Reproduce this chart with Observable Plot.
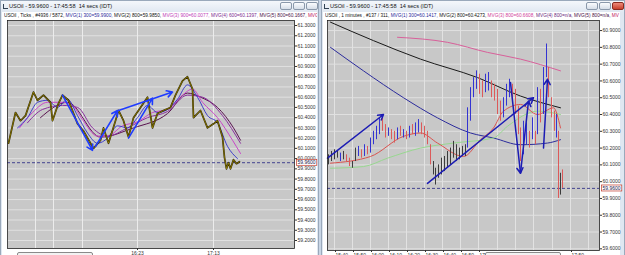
<!DOCTYPE html>
<html><head><meta charset="utf-8">
<script src="https://cdn.jsdelivr.net/npm/d3@7"></script>
<script src="https://cdn.jsdelivr.net/npm/@observablehq/plot@0.6"></script>
<style>
body{margin:0;width:625px;height:255px;overflow:hidden;background:#c9d6e6;font-family:"Liberation Sans",Arial,sans-serif;position:relative}
.win{position:absolute;top:0;height:256px;background:linear-gradient(#f4f7fb,#dfe7f1 12px,#dfe7f1);border:1px solid #9aa9bb;box-sizing:border-box}
.client{position:absolute;background:#fff}
.tbar{position:absolute;top:0;height:12px;font-size:5.6px;line-height:12px;color:#111;white-space:nowrap}
.ico{position:absolute;top:4px;width:5px;height:5px;border-left:1px solid #345;border-bottom:1px solid #345;box-sizing:border-box}
.sub{position:absolute;top:12px;height:8px;font-size:4.75px;line-height:8px;white-space:nowrap;overflow:hidden;color:#111}
.chart{position:absolute;top:19px}
.btns{position:absolute;top:2px;display:flex;gap:1px}
.btn{width:12px;height:8px;border:1px solid #8a98aa;background:linear-gradient(#fbfcfe,#d6dee8);border-radius:2px;box-sizing:border-box}
.btn.close{background:linear-gradient(#ee8a7a,#c8402c);border-color:#8a2a20}
.scroll{position:absolute;top:252px;height:6px;border:1px solid #8a8a8a;background:#f2f2f2;border-radius:2px;box-sizing:border-box}
</style></head><body>
<div class="win" style="left:0;width:319px"></div>
<div class="win" style="left:321px;width:304px"></div>
<div class="client" style="left:2px;top:12px;width:315px;height:243px"></div>
<div class="client" style="left:323px;top:12px;width:297px;height:243px"></div>
<div class="ico" style="left:3px"></div>
<div class="ico" style="left:324px"></div>
<div class="tbar" style="left:9px">USOil - 59.9600 - 17:45:58&nbsp; 14 secs (IDT)</div>
<div class="tbar" style="left:330px">USOil - 59.9600 - 17:45:58&nbsp; 14 secs (IDT)</div>
<div class="btns" style="left:280px"><div class="btn"></div><div class="btn"></div><div class="btn"></div></div>
<div class="btns" style="left:586px"><div class="btn"></div><div class="btn"></div><div class="btn close"></div></div>
<div class="sub" style="left:4px;width:313px"><span>USOil , Ticks , #4936 / 5872, </span><span style="color:#2a2a9a">MVG(1) 300=59.9900, </span><span>MVG(2) 800=59.9850, </span><span style="color:#c040b8">MVG(3) 900=60.0077, </span><span style="color:#7a2a8e">MVG(4) 600=60.1397, </span><span style="color:#4a1046">MVG(5) 800=60.1667, </span><span style="color:#c0185a">MVG(6)</span></div>
<div class="sub" style="left:325px;width:297px"><span>USOil , 1 minutes , #137 / 311, </span><span style="color:#2a2a9a">MVG(1) 300=60.1417, </span><span>MVG(2) 800=60.4273, </span><span style="color:#d0409a">MVG(3) 800=60.6608, </span><span style="color:#6a2a7e">MVG(4) 800=n/a, </span><span style="color:#4a1046">MVG(5) 800=n/a, </span><span style="color:#c0185a">MV</span></div>
<div id="left" class="chart" style="left:3px"></div>
<div id="right" class="chart" style="left:324px"></div>
<div class="scroll" style="left:17px;width:76px"></div>
<div class="scroll" style="left:485px;width:76px"></div>
<script>
// ---------- LEFT: tick chart ----------
const lTick  = [1,8,13,18,26,30,36,43,45,51,55,61,70,76,83,86,93,96,101,108,111,116,121,126,133,140,145,150,156,163,168,175,180,185,186,193,200,206,210,215,217,219,221,223,226,229,232];
const lPrice = [60.15,60.45,60.37,60.42,60.65,60.57,60.62,60.55,60.37,60.54,60.62,60.57,60.34,60.27,60.15,60.10,60.18,60.30,60.15,60.37,60.47,60.37,60.21,60.40,60.50,60.60,60.30,60.44,60.47,60.50,60.62,60.76,60.80,60.68,60.40,60.47,60.30,60.34,60.37,60.21,60.01,59.90,59.96,59.90,59.99,59.95,59.97];
const lMaBlue = [[10,60.30],[20,60.40],[30,60.55],[40,60.57],[50,60.50],[60,60.58],[70,60.42],[80,60.25],[90,60.15],[100,60.20],[110,60.32],[120,60.30],[130,60.40],[140,60.52],[150,60.45],[160,60.48],[170,60.58],[180,60.72],[190,60.60],[200,60.42],[210,60.35],[220,60.12],[230,60.00]];
const lMaMag  = [[12,60.30],[25,60.45],[40,60.55],[55,60.55],[65,60.52],[75,60.38],[90,60.22],[100,60.22],[115,60.32],[130,60.36],[145,60.45],[160,60.48],[175,60.62],[185,60.68],[195,60.55],[210,60.40],[225,60.18],[233,60.05]];
const lMaPur  = [[20,60.35],[35,60.48],[55,60.52],[70,60.50],[85,60.30],[100,60.22],[120,60.30],[140,60.40],[160,60.46],[180,60.62],[195,60.60],[215,60.42],[233,60.15]];
const lMaDark = [[33,60.40],[60,60.55],[93,60.21],[126,60.30],[160,60.44],[180,60.64],[193,60.60],[210,60.50],[226,60.30],[233,60.18]];
const lArrX1 = [55,88,111,121], lArrY1 = [60.62,60.12,60.47,60.20];
const lArrX2 = [85,110,165,145], lArrY2 = [60.08,60.47,60.65,60.59];
const lYTicks = [59.2,59.3,59.4,59.5,59.6,59.7,59.8,59.9,60.0,60.1,60.2,60.3,60.4,60.5,60.6,60.7,60.8,60.9,61.0,61.1,61.2,61.3];
const lGridX = [28,46,75,130,206];
const lTimeTicks = [130,206], lTimeLabels = ["16:23","17:13"];
const lastPrice = 59.96;

// ---------- RIGHT: 1-minute chart ----------
const rBarX = [1,4,7,10,13,16,19,22,25,28,
  31,34,37,40,43,46,49,52,55,58,
  61,64,67,70,73,76,79,82,85,88,
  91,94,97,100,103,106,108,111,114,117,
  120,123,126,129,132,135,138,140,143,146,
  149,152,155,158,161,164,167,170,173,176,
  179,182,185,188,191,193,196,199,202,205,
  208,210,213,216,219,221,224,227,229,231,
  233,235];
const rLo = [60.10,60.12,60.13,60.14,60.12,60.13,60.12,60.09,60.08,60.12,
  60.15,60.14,60.15,60.16,60.17,60.22,60.25,60.28,60.30,60.26,
  60.27,60.25,60.23,60.25,60.27,60.26,60.25,60.26,60.28,60.27,
  60.29,60.28,60.26,60.22,60.10,60.04,59.98,60.02,60.04,60.06,
  60.08,60.10,60.14,60.12,60.13,60.15,60.15,60.20,60.36,60.50,
  60.55,60.52,60.50,60.53,60.54,60.50,60.48,60.40,60.36,60.38,
  60.45,60.50,60.48,60.40,60.28,60.12,60.16,60.22,60.20,60.25,
  60.22,60.28,60.35,60.40,60.62,60.50,60.38,60.30,60.26,59.90,
  59.92,59.96];
const rHi = [60.16,60.18,60.19,60.18,60.17,60.18,60.16,60.14,60.12,60.20,
  60.21,60.19,60.22,60.21,60.26,60.30,60.33,60.38,60.40,60.34,
  60.32,60.31,60.30,60.32,60.33,60.31,60.30,60.33,60.34,60.35,
  60.37,60.35,60.33,60.30,60.22,60.12,60.08,60.10,60.14,60.15,
  60.18,60.20,60.24,60.22,60.20,60.21,60.22,60.44,60.56,60.62,
  60.66,60.64,60.60,60.64,60.65,60.60,60.58,60.55,60.48,60.50,
  60.58,60.61,60.58,60.55,60.45,60.32,60.36,60.35,60.30,60.38,
  60.30,60.56,60.55,60.68,60.82,60.68,60.50,60.42,60.40,60.30,
  60.05,60.07];
const rDir = "nnnnunddnn" + "ududuuuudd" + "uddudududu" + "uddddnnnnn" + "nnnnnnnuuu" +
             "udduuddddu" + "uudddduudu" + "duduudddud" + "nd";
const rRed   = [[3,60.11],[43,60.15],[76,60.27],[93,60.29],[110,60.23],[136,60.15],[153,60.25],[166,60.32],[176,60.42],[193,60.46],[210,60.40],[226,60.44],[233,60.32]];
const rGreen = [[3,60.08],[36,60.09],[60,60.14],[93,60.20],[126,60.23],[166,60.26],[180,60.33],[210,60.42],[233,60.40]];
const rNavy  = [[3,60.80],[36,60.66],[76,60.50],[110,60.38],[143,60.29],[166,60.26],[193,60.22],[220,60.23],[233,60.25]];
const rBlack = [[3,60.95],[46,60.84],[93,60.73],[150,60.62],[193,60.51],[233,60.44]];
const rPink  = [[70,60.86],[120,60.83],[160,60.77],[193,60.73],[233,60.66]];
const rArrX1 = [0,100,183,193,216], rArrY1 = [60.14,59.99,60.59,60.05,60.20];
const rArrX2 = [56,206,193,201,220], rArrY2 = [60.40,60.50,60.05,60.48,60.61];
const rYTicks = [59.6,59.7,59.8,59.9,60.0,60.1,60.2,60.3,60.4,60.5,60.6,60.7,60.8,60.9];
const rGridX = [7,25,43,61,79,97,115,133,151,170,188,206,225,243,261];
const rTimeTicks = [7,25,43,61,79,97,115,133,151,243];
const rTimeLabels = ["15:40","15:50","16:00","16:10","16:20","16:30","16:40","16:50","17:00","17:50"];

const fmt4 = d => d.toFixed(4);
const pts = a => a.map(([x, y]) => ({x, y}));
const arrows = (x1, y1, x2, y2) => x1.map((v, i) => ({x1: v, y1: y1[i], x2: x2[i], y2: y2[i]}));
const font = {fontSize: "5px", fontFamily: "Liberation Sans, Arial, sans-serif", background: "transparent", overflow: "visible"};

const lMap = new Map(lTimeTicks.map((t, i) => [t, lTimeLabels[i]]));
const leftPlot = Plot.plot({
  width: 313, height: 236, marginLeft: 4, marginRight: 22, marginTop: 1, marginBottom: 7,
  x: {domain: [0, 287], axis: null},
  y: {domain: [59.122, 61.349], axis: null},
  style: font,
  marks: [
    Plot.frame({fill: "#c8c8c8", stroke: null}),
    Plot.gridY(lYTicks, {stroke: "#e0e0e0", strokeOpacity: 1}),
    Plot.gridX(lGridX, {stroke: "#ececec", strokeOpacity: 1}),
    Plot.ruleY([lastPrice], {stroke: "#34348a", strokeDasharray: "3,2", strokeWidth: 0.9}),
    Plot.line(pts(lMaDark), {x: "x", y: "y", stroke: "#5a1450", strokeWidth: 1, curve: "monotone-x"}),
    Plot.line(pts(lMaPur), {x: "x", y: "y", stroke: "#8a2f9e", strokeWidth: 1, curve: "monotone-x"}),
    Plot.line(pts(lMaMag), {x: "x", y: "y", stroke: "#c847c8", strokeWidth: 1, curve: "monotone-x"}),
    Plot.line(pts(lMaBlue), {x: "x", y: "y", stroke: "#3030c8", strokeWidth: 0.9, curve: "monotone-x"}),
    Plot.line(lTick.map((t, i) => ({x: t, y: lPrice[i]})), {x: "x", y: "y", stroke: "#2a2000", strokeWidth: 1.7}),
    Plot.line(lTick.map((t, i) => ({x: t, y: lPrice[i]})), {x: "x", y: "y", stroke: "#c8b400", strokeWidth: 0.55}),
    Plot.arrow(arrows(lArrX1, lArrY1, lArrX2, lArrY2), {x1: "x1", y1: "y1", x2: "x2", y2: "y2", stroke: "#1f3cff", strokeWidth: 1.6, headLength: 6}),
    Plot.frame({stroke: "#222", strokeWidth: 0.8}),
    Plot.axisY(lYTicks, {anchor: "right", tickFormat: fmt4, tickSize: 2, tickPadding: 1, fill: "#333", stroke: "#333"}),
    Plot.axisX(lTimeTicks, {anchor: "bottom", tickFormat: d => lMap.get(d), tickSize: 2, tickPadding: 1, fill: "#333", stroke: "#333"}),
    Plot.text([lastPrice], {y: d => d, frameAnchor: "right", text: fmt4, textAnchor: "start", dx: 3, fill: "#1a1a4a"})
  ]
});

const rMap = new Map(rTimeTicks.map((t, i) => [t, rTimeLabels[i]]));
const rColor = {u: "#3434d2", d: "#dc5a5a", n: "#3c3c3c"};
const rBars = rBarX.map((x, i) => ({x, lo: rLo[i], hi: rHi[i], c: rColor[rDir[i]]}));
const rightPlot = Plot.plot({
  width: 297, height: 236, marginLeft: 3, marginRight: 22, marginTop: 1, marginBottom: 5,
  x: {domain: [0, 272], axis: null},
  y: {domain: [59.59, 60.96], axis: null},
  style: font,
  marks: [
    Plot.frame({fill: "#c8c8c8", stroke: null}),
    Plot.gridY(rYTicks, {stroke: "#e0e0e0", strokeOpacity: 1}),
    Plot.gridX(rGridX, {stroke: "#e2e2e2", strokeOpacity: 1}),
    Plot.ruleY([lastPrice], {stroke: "#34348a", strokeDasharray: "3,2", strokeWidth: 0.9}),
    Plot.line(pts(rBlack), {x: "x", y: "y", stroke: "#1a1a1a", strokeWidth: 1, curve: "monotone-x"}),
    Plot.line(pts(rPink), {x: "x", y: "y", stroke: "#d8609a", strokeWidth: 1, curve: "monotone-x"}),
    Plot.line(pts(rNavy), {x: "x", y: "y", stroke: "#2c2c9c", strokeWidth: 1, curve: "monotone-x"}),
    Plot.line(pts(rGreen), {x: "x", y: "y", stroke: "#98d890", strokeWidth: 1, curve: "monotone-x"}),
    Plot.line(pts(rRed), {x: "x", y: "y", stroke: "#d9534f", strokeWidth: 1, curve: "monotone-x"}),
    Plot.ruleX(rBars, {x: "x", y1: "lo", y2: "hi", stroke: "c", strokeWidth: 1}),
    Plot.arrow(arrows(rArrX1, rArrY1, rArrX2, rArrY2), {x1: "x1", y1: "y1", x2: "x2", y2: "y2", stroke: "#1c1cb4", strokeWidth: 1.5, headLength: 6}),
    Plot.frame({stroke: "#222", strokeWidth: 0.8}),
    Plot.axisY(rYTicks, {anchor: "right", tickFormat: fmt4, tickSize: 2, tickPadding: 1, fill: "#333", stroke: "#333"}),
    Plot.axisX(rTimeTicks, {anchor: "bottom", tickFormat: d => rMap.get(d), tickSize: 2, tickPadding: 1, textAnchor: "start", dx: 1, fill: "#333", stroke: "#333"}),
    Plot.text([lastPrice], {y: d => d, frameAnchor: "right", text: fmt4, textAnchor: "start", dx: 3, fill: "#1a1a4a"})
  ]
});

document.getElementById("left").append(leftPlot);
document.getElementById("right").append(rightPlot);

// white box with red border behind the last-price label
for (const svg of [leftPlot, rightPlot]) {
  svg.querySelectorAll("text").forEach(t => {
    if (t.textContent !== fmt4(lastPrice)) return;
    const b = t.getBBox();
    const r = document.createElementNS("http://www.w3.org/2000/svg", "rect");
    r.setAttribute("x", b.x - 1); r.setAttribute("y", b.y);
    r.setAttribute("width", b.width + 2); r.setAttribute("height", b.height);
    r.setAttribute("fill", "#fff"); r.setAttribute("stroke", "#c0392b"); r.setAttribute("stroke-width", "0.7");
    if (t.getAttribute("transform")) r.setAttribute("transform", t.getAttribute("transform"));
    t.parentNode.insertBefore(r, t);
  });
}
</script>
</body></html>
